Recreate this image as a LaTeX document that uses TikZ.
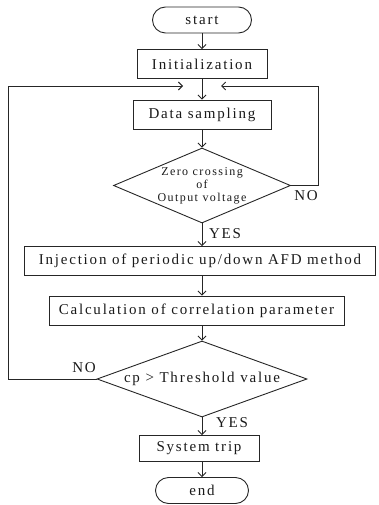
\documentclass[tikz,border=0pt]{standalone}
\usepackage{fontspec}
\setmainfont{Liberation Serif}[LetterSpace=12]
\usetikzlibrary{shapes.geometric,shapes.misc,arrows.meta}
\begin{document}
\begin{tikzpicture}[x=1pt,y=-1pt,
  line width=0.9pt,
  every node/.style={font=\fontsize{15}{17}\selectfont, text=black!90, draw=black!85},
  term/.style={draw, rounded rectangle, inner sep=0pt},
  proc/.style={draw, rectangle, inner sep=0pt},
  dec/.style={draw, diamond, inner sep=0pt, align=center},
  lbl/.style={draw=none, inner sep=0pt},
  arr/.style={draw=black!85, -{Straight Barb[length=4pt,width=8pt,line width=0.9pt]}},
  ln/.style={draw=black!85}]
\useasboundingbox (0,0) rectangle (378,505);
\node[term, minimum width=99pt, minimum height=26pt] (start) at (202,20) {start};
\node[proc, minimum width=130pt, minimum height=29pt] (init) at (202,64) {Initialization};
\node[proc, minimum width=138pt, minimum height=29pt] (data) at (202,114.5) {Data sampling};
\node[dec, aspect=2.36, minimum width=177pt, minimum height=75pt, font=\fontsize{12}{13}\selectfont] (d1) at (202,185.5) {Zero crossing\\of\\Output voltage};
\node[proc, minimum width=351pt, minimum height=29pt] (inj) at (200,261) {Injection of periodic up/down AFD method};
\node[proc, minimum width=295pt, minimum height=29pt] (calc) at (196.5,310.5) {Calculation of correlation parameter};
\node[dec, aspect=2.76, minimum width=210pt, minimum height=76pt] (d2) at (202,379) {cp > Threshold value};
\node[proc, minimum width=120pt, minimum height=26pt] (sys) at (199,448.5) {System trip};
\node[term, minimum width=93pt, minimum height=26pt] (end) at (202,490.5) {end};
\node[lbl] (no1) at (306,196) {NO};
\node[lbl] (yes1) at (225,234) {YES};
\node[lbl] (no2) at (84,368) {NO};
\node[lbl] (yes2) at (232,423) {YES};
\coordinate (rtop) at (318,86);
\coordinate (rin) at (221,86);
\coordinate (ltop) at (8,86);
\coordinate (lin) at (183,86);
\draw[arr] (start.south) -- (init.north);
\draw[arr] (init.south) -- (data.north);
\draw[arr] (data.south) -- (d1.north);
\draw[arr] (d1.south) -- (d1.south |- inj.north);
\draw[arr] (inj.south -| d2.north) -- (calc.north -| d2.north);
\draw[arr] (calc.south -| d2.north) -- (d2.north);
\draw[arr] (d2.south) -- (d2.south |- sys.north);
\draw[arr] (sys.south -| end.north) -- (end.north);
\draw[arr] (d1.east) -| (rtop) -- (rin);
\draw[arr] (d2.west) -| (ltop) -- (lin);
\end{tikzpicture}
\end{document}
